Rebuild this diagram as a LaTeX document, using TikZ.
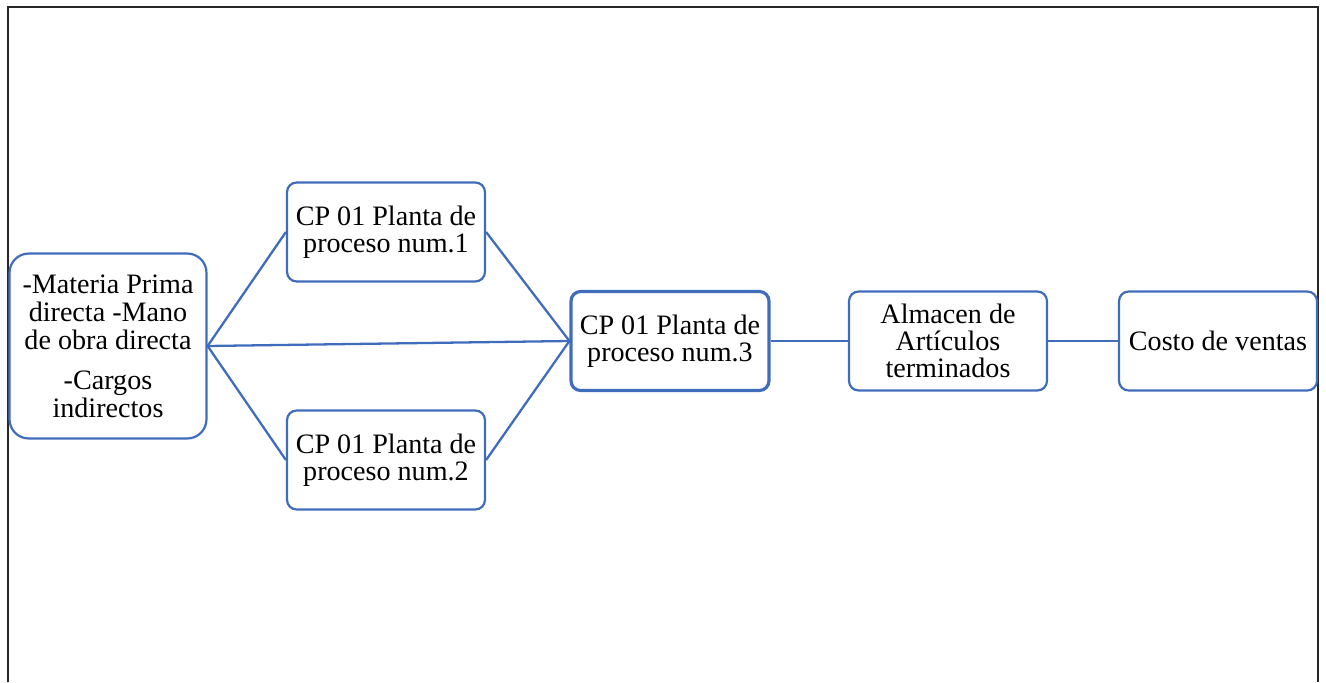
\documentclass[tikz,border=0pt]{standalone}
\usepackage{fontspec}
\setmainfont{Liberation Serif}
\usetikzlibrary{positioning}
\definecolor{boxblue}{RGB}{64,108,188}

\begin{document}
\begin{tikzpicture}[node distance=2cm,on grid,
    caja/.style={draw=boxblue,line width=1.25pt,rounded corners=5.5pt,minimum width=3.96cm,
      minimum height=1.98cm,align=center,inner sep=2pt,font=\fontsize{16}{15.3}\selectfont},
    liga/.style={draw=boxblue,line width=1.3pt}]

      \useasboundingbox (0,0) rectangle (26.52,13.64);
      \draw[line width=0.9pt,black!85] (0.16,0) -- (0.16,13.5) -- (26.36,13.5) -- (26.36,0);

      \node[caja,minimum width=3.94cm,minimum height=3.7cm,rounded corners=11pt,
        font=\fontsize{16}{15.9}\selectfont] (insumos) at (2.16,6.72)
        {-Materia Prima\\directa -Mano\\de obra directa\\[6.8pt]-Cargos\\indirectos};
      \node[caja,line width=1.8pt] (cp3) at (13.40,6.82) {CP 01 Planta de\\proceso num.3};
      \node[caja] (cp1) [above left=2.18cm and 5.68cm of cp3] {CP 01 Planta de\\proceso num.1};
      \node[caja] (cp2) [below left=2.38cm and 5.68cm of cp3] {CP 01 Planta de\\proceso num.2};
      \node[caja] (almacen) [right=5.56cm of cp3] {Almacen de\\Artículos\\terminados};
      \node[caja] (costo) [right=5.40cm of almacen] {Costo de ventas};

      \path (insumos.east) edge[liga] (cp1.west)
            (insumos.east) edge[liga] (cp3.west)
            (insumos.east) edge[liga] (cp2.west)
            (cp1.east) edge[liga] (cp3.west)
            (cp2.east) edge[liga] (cp3.west)
            (cp3) edge[liga] (almacen)
            (almacen) edge[liga] (costo);
    \end{tikzpicture}
\end{document}
